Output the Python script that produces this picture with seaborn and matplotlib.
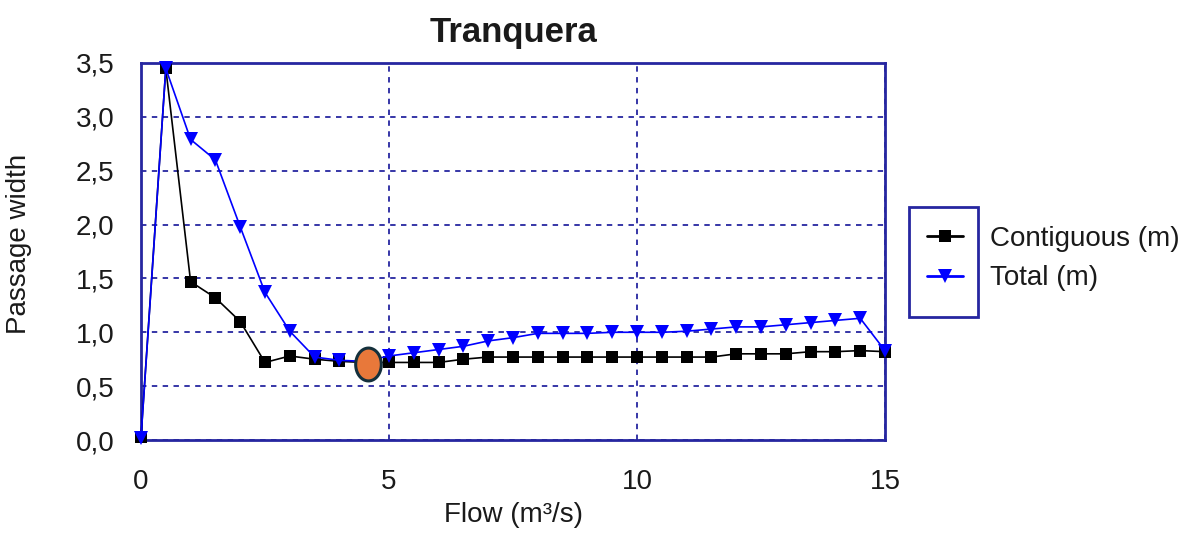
import matplotlib
matplotlib.use("Agg")
import matplotlib.pyplot as plt
from matplotlib.ticker import MultipleLocator, FuncFormatter
from matplotlib.patches import Rectangle
from matplotlib.path import Path
from matplotlib.lines import Line2D
import numpy as np
import pandas as pd
import seaborn as sns

# Passage width versus flow at the Tranquera site
flow = [0, 0.5, 1.0, 1.5, 2.0, 2.5, 3.0, 3.5, 4.0, 4.5, 5.0, 5.5, 6.0, 6.5, 7.0,
        7.5, 8.0, 8.5, 9.0, 9.5, 10.0, 10.5, 11.0, 11.5, 12.0, 12.5, 13.0, 13.5,
        14.0, 14.5, 15.0]
contiguous = [0.03, 3.45, 1.47, 1.32, 1.10, 0.72, 0.78, 0.75, 0.73, 0.72, 0.72,
              0.72, 0.72, 0.75, 0.77, 0.77, 0.77, 0.77, 0.77, 0.77, 0.77, 0.77,
              0.77, 0.77, 0.80, 0.80, 0.80, 0.82, 0.82, 0.83, 0.82]
total = [0.02, 3.45, 2.79, 2.60, 1.98, 1.37, 1.01, 0.77, 0.74, 0.73, 0.78, 0.81,
         0.84, 0.87, 0.92, 0.95, 0.99, 0.99, 0.99, 1.00, 1.00, 1.00, 1.01, 1.03,
         1.05, 1.05, 1.07, 1.09, 1.11, 1.13, 0.83]
series_labels = ["Contiguous (m)", "Total (m)"]

# Highlighted operating point
highlight_flow = [4.58]
highlight_width = [0.71]

df = pd.DataFrame({"flow": flow, "contiguous": contiguous, "total": total})

sns.set_style("white")
plt.rcParams["font.family"] = ["Liberation Sans", "DejaVu Sans"]

NAVY = "#2626a0"
TEXT = "#1a1a1a"

fig = plt.figure(figsize=(11.84, 5.43), dpi=100)
ax = fig.add_axes([141 / 1184, 1 - 440 / 543, 744 / 1184, 377 / 543])

sns.lineplot(data=df, x="flow", y="contiguous", ax=ax, color="black",
             linewidth=1.2, marker="s", markersize=8, markeredgewidth=0,
             sort=False, zorder=3, clip_on=False)
sns.lineplot(data=df, x="flow", y="total", ax=ax, color="#0000ff",
             linewidth=1.2, marker="v", markersize=10, markeredgewidth=0,
             sort=False, zorder=4, clip_on=False)

# Elliptical marker for the highlighted point
t = np.linspace(0, 2 * np.pi, 60)
ell = Path(np.column_stack([0.78 * np.cos(t), np.sin(t)]), closed=True)
ax.scatter(highlight_flow, highlight_width, marker=ell, s=560,
           facecolor="#e8783a", edgecolor="#14303c", linewidth=2.2, zorder=6)

ax.set_xlim(0, 15)
ax.set_ylim(0, 3.5)
ax.xaxis.set_major_locator(MultipleLocator(5))
ax.xaxis.set_minor_locator(MultipleLocator(1))
ax.yaxis.set_major_locator(MultipleLocator(0.5))
ax.yaxis.set_minor_locator(MultipleLocator(0.25))
ax.xaxis.set_major_formatter(FuncFormatter(lambda v, p: f"{v:.0f}"))
ax.yaxis.set_major_formatter(FuncFormatter(lambda v, p: f"{v:.1f}".replace(".", ",")))

ax.grid(True, which="major", color=NAVY, linestyle=(0, (3, 3)), linewidth=1.3)
ax.set_axisbelow(True)
for s in ax.spines.values():
    s.set_color(NAVY)
    s.set_linewidth(2)
    s.set_visible(True)
    s.set_zorder(2.5)

ax.tick_params(axis="both", which="both", direction="in", color=NAVY,
               labelsize=20, labelcolor=TEXT)
ax.tick_params(axis="both", which="major", length=7, width=1.3)
ax.tick_params(axis="both", which="minor", length=6, width=1.3)
ax.tick_params(axis="x", which="both", pad=21)
ax.tick_params(axis="y", which="both", pad=19)

ax.set_title("Tranquera", fontsize=25, fontweight="bold", pad=15, color=TEXT)
ax.set_xlabel("Flow (m³/s)", fontsize=20, color=TEXT)
ax.set_ylabel("Passage width", fontsize=20, color=TEXT)
ax.xaxis.set_label_coords(0.5, -0.165)
ax.yaxis.set_label_coords(-0.147, 0.52)

handles = [
    Line2D([], [], color="black", linewidth=2, marker="s", markersize=8,
           markeredgewidth=0),
    Line2D([], [], color="#0000ff", linewidth=2, marker="v", markersize=10,
           markeredgewidth=0),
]
fig.legend(handles, series_labels, loc="upper left",
           bbox_to_anchor=(927 / 1184, 1 - 226 / 543),
           bbox_transform=fig.transFigure, frameon=False, fontsize=20,
           handlelength=1.3, handletextpad=0.97, labelspacing=0.48,
           numpoints=1, borderpad=0, borderaxespad=0,
           labelcolor=TEXT)
fig.add_artist(Rectangle((909 / 1184, 1 - 317 / 543), 69 / 1184, 110 / 543,
                         transform=fig.transFigure, fill=False,
                         edgecolor=NAVY, linewidth=2))

fig.savefig("out.png", dpi=100)
